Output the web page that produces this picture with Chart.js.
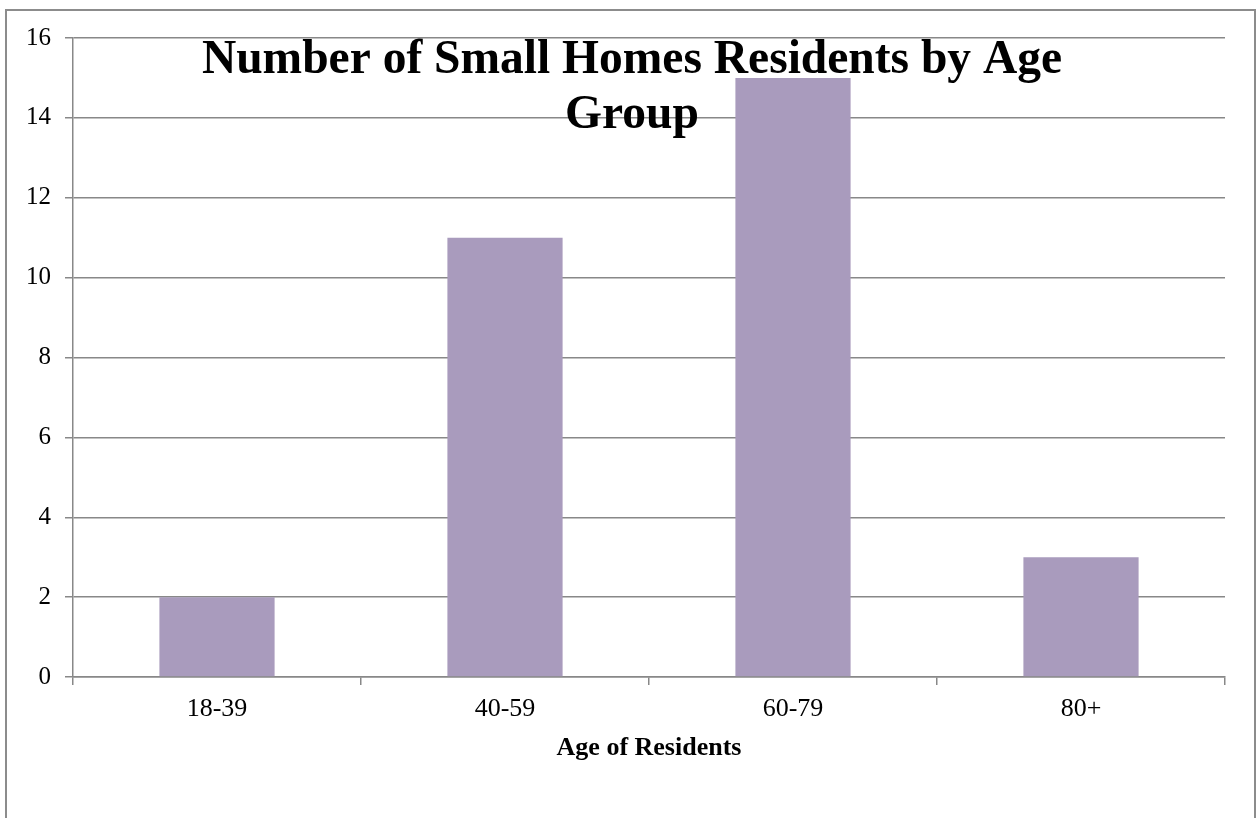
<!DOCTYPE html>
<html>
<head>
<meta charset="utf-8">
<title>Number of Small Homes Residents by Age Group</title>
<script src="https://cdn.jsdelivr.net/npm/chart.js@4/dist/chart.umd.min.js"></script>
<style>
    html, body { margin: 0; padding: 0; background: #fff; }
    #wrap { width: 1259px; height: 818px; position: relative; }
</style>
</head>
<body>
<div id="wrap"><canvas id="myChart"></canvas></div>
<script>
var AgeGroups = ['18-39', '40-59', '60-79', '80+'];
var Residents = [2, 11, 15, 3];
var TitleLines = ['Number of Small Homes Residents by Age', 'Group'];
var AxisTitle = 'Age of Residents';

// frame round the whole chart + title drawn over the plot
const framePlugin = {
    id: 'frame',
    beforeDraw: function (chart) {
        const ctx = chart.ctx;
        ctx.save();
        ctx.strokeStyle = '#8c8c8c';
        ctx.lineWidth = 2;
        ctx.strokeRect(6, 10, 1249, 830);
        ctx.restore();
    },
    afterDraw: function (chart) {
        const ctx = chart.ctx;
        ctx.save();
        ctx.fillStyle = '#000';
        ctx.font = 'bold 47.5px "Liberation Serif", "Times New Roman", serif';
        ctx.textAlign = 'center';
        ctx.textBaseline = 'alphabetic';
        ctx.fillText(TitleLines[0], 632, 73);
        ctx.fillText(TitleLines[1], 632, 128);
        ctx.restore();
    }
};

function initchart() {
    const data = {
        labels: AgeGroups,
        datasets: [
            {
                label: 'Residents',
                data: Residents,
                backgroundColor: '#A99BBD',
                categoryPercentage: 1,
                barPercentage: 0.4
            }
        ]
    };

    const config = {
        type: 'bar',
        data: data,
        plugins: [framePlugin],
        options: {
            responsive: false,
            animation: false,
            layout: { padding: { left: 0, top: 38, right: 34, bottom: 54 } },
            plugins: {
                legend: { display: false },
                tooltip: { enabled: false }
            },
            scales: {
                x: {
                    afterFit: function (scale) { scale.height = 87; },
                    grid: {
                        display: true,
                        offset: true,
                        drawOnChartArea: false,
                        color: '#888888',
                        lineWidth: 1.5,
                        tickLength: 8
                    },
                    border: { color: '#888888', width: 1.5 },
                    ticks: {
                        color: '#000',
                        padding: 9,
                        font: { family: '"Liberation Serif", "Times New Roman", serif', size: 26 }
                    },
                    title: {
                        display: true,
                        text: AxisTitle,
                        color: '#000',
                        padding: { top: 0, bottom: 0 },
                        font: { family: '"Liberation Serif", "Times New Roman", serif', size: 26, weight: 'bold' }
                    }
                },
                y: {
                    min: 0,
                    max: 16,
                    afterFit: function (scale) { scale.width = 73; },
                    grid: {
                        color: '#888888',
                        lineWidth: 1.5,
                        tickLength: 8
                    },
                    border: { color: '#888888', width: 1.5 },
                    ticks: {
                        stepSize: 2,
                        color: '#000',
                        padding: 14,
                        font: { family: '"Liberation Serif", "Times New Roman", serif', size: 25 }
                    }
                }
            }
        }
    };

    const canvas = document.getElementById('myChart');
    canvas.width = 1259;
    canvas.height = 818;
    const myChart = new Chart(canvas, config);
}

initchart();
</script>
</body>
</html>
